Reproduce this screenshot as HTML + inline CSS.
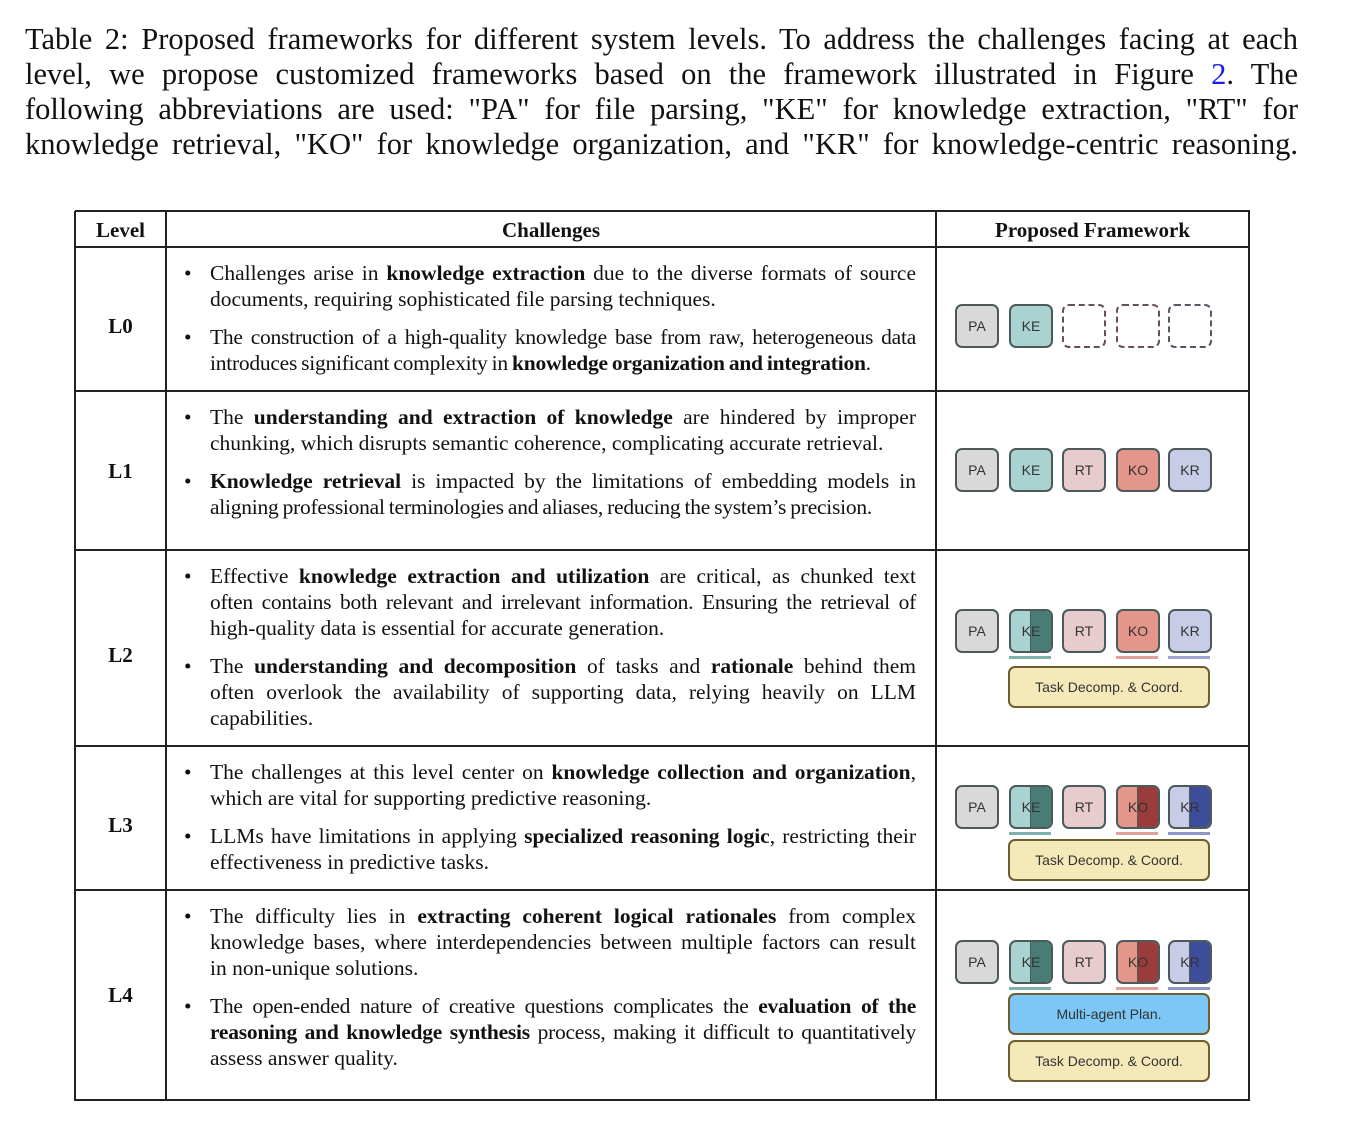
<!DOCTYPE html>
<html><head><meta charset="utf-8"><style>
body{margin:0;width:1346px;height:1146px;background:#fff;position:relative;overflow:hidden;font-family:"Liberation Serif",serif;color:#111}
.cap{position:absolute;left:25px;width:1273px;font-size:30.5px;line-height:35px;white-space:nowrap}
.j{text-align:justify;text-align-last:justify}
.l{position:absolute;left:210px;width:706px;font-size:21.5px;line-height:26px;white-space:nowrap}
.b{position:absolute;left:184px;font-size:21.5px;line-height:26px}
.tight{letter-spacing:-0.25px;word-spacing:-1px}
.hl{position:absolute;background:#222;height:1.5px}
.vl{position:absolute;background:#222;width:1.5px;top:211px;height:890px}
.hd{position:absolute;top:216px;font-weight:bold;font-size:21px;line-height:28px;text-align:center}
.lv{position:absolute;left:75px;width:91px;text-align:center;font-weight:bold;font-size:21px;line-height:26px}
.bx{position:absolute;width:40px;height:40px;border:2px solid #4d5a5a;border-radius:7px;box-sizing:content-box;font-family:"Liberation Sans",sans-serif;font-size:14px;color:#333;display:flex;align-items:center;justify-content:center;overflow:hidden}
.dash{border:2px dashed #6a5050;background:#fff}
.pa{background:#d9d9d9}.ke{background:#a9d3d0}.rt{background:#e8cbcd}.ko{background:#e5968b}.kr{background:#c8cce6}
.split span{position:relative;z-index:1}
.half{position:absolute;right:0;top:0;width:50%;height:100%;border-left:1.5px solid #4d5a5a}
.ul{position:absolute;height:3px}
.wide{position:absolute;left:1008px;width:198px;height:38px;border:2px solid #6e5e30;border-radius:7px;font-family:"Liberation Sans",sans-serif;font-size:14px;color:#333;display:flex;align-items:center;justify-content:center}
.task{background:#f5e9b9}.multi{background:#7cc7f5}
a{color:#1a1aee;text-decoration:none}
</style></head><body>
<div>
<div class="cap j" style="top:22px">Table 2: Proposed frameworks for different system levels. To address the challenges facing at each</div>
<div class="cap j" style="top:57px">level, we propose customized frameworks based on the framework illustrated in Figure <a>2</a>. The</div>
<div class="cap j" style="top:92px">following abbreviations are used: "PA" for file parsing, "KE" for knowledge extraction, "RT" for</div>
<div class="cap j" style="top:127px">knowledge retrieval, "KO" for knowledge organization, and "KR" for knowledge-centric reasoning.</div>
</div>

<div>
<div class="hl" style="left:75px;width:1175px;top:210px"></div>
<div class="hl" style="left:75px;width:1175px;top:246px"></div>
<div class="hl" style="left:75px;width:1175px;top:390px"></div>
<div class="hl" style="left:75px;width:1175px;top:549px"></div>
<div class="hl" style="left:75px;width:1175px;top:745px"></div>
<div class="hl" style="left:75px;width:1175px;top:889px"></div>
<div class="hl" style="left:75px;width:1175px;top:1099px"></div>
<div class="vl" style="left:74px"></div>
<div class="vl" style="left:165px"></div>
<div class="vl" style="left:935px"></div>
<div class="vl" style="left:1248px"></div>

<div class="hd" style="left:75px;width:91px">Level</div>
<div class="hd" style="left:166px;width:770px">Challenges</div>
<div class="hd" style="left:936px;width:313px">Proposed Framework</div>

<div class="lv" style="top:313px">L0</div>
<div class="lv" style="top:458px">L1</div>
<div class="lv" style="top:642px">L2</div>
<div class="lv" style="top:812px">L3</div>
<div class="lv" style="top:982px">L4</div>

<div>
<div class="b" style="top:260px">•</div>
<div class="l j" style="top:260px">Challenges arise in <b>knowledge extraction</b> due to the diverse formats of source</div>
<div class="l" style="top:286px">documents, requiring sophisticated file parsing techniques.</div>
<div class="b" style="top:324px">•</div>
<div class="l j tight" style="top:324px">The construction of a high-quality knowledge base from raw, heterogeneous data</div>
<div class="l tight" style="top:350px">introduces significant complexity in <b>knowledge organization and integration</b>.</div>
</div>
<div>
<div class="b" style="top:404px">•</div>
<div class="l j" style="top:404px">The <b>understanding and extraction of knowledge</b> are hindered by improper</div>
<div class="l" style="top:430px">chunking, which disrupts semantic coherence, complicating accurate retrieval.</div>
<div class="b" style="top:468px">•</div>
<div class="l j" style="top:468px"><b>Knowledge retrieval</b> is impacted by the limitations of embedding models in</div>
<div class="l tight" style="top:494px">aligning professional terminologies and aliases, reducing the system’s precision.</div>
</div>
<div>
<div class="b" style="top:563px">•</div>
<div class="l j" style="top:563px">Effective <b>knowledge extraction and utilization</b> are critical, as chunked text</div>
<div class="l j tight" style="top:589px">often contains both relevant and irrelevant information. Ensuring the retrieval of</div>
<div class="l" style="top:615px">high-quality data is essential for accurate generation.</div>
<div class="b" style="top:653px">•</div>
<div class="l j" style="top:653px">The <b>understanding and decomposition</b> of tasks and <b>rationale</b> behind them</div>
<div class="l j" style="top:679px">often overlook the availability of supporting data, relying heavily on LLM</div>
<div class="l" style="top:705px">capabilities.</div>
</div>
<div>
<div class="b" style="top:759px">•</div>
<div class="l j" style="top:759px">The challenges at this level center on <b>knowledge collection and organization</b>,</div>
<div class="l" style="top:785px">which are vital for supporting predictive reasoning.</div>
<div class="b" style="top:823px">•</div>
<div class="l j" style="top:823px">LLMs have limitations in applying <b>specialized reasoning logic</b>, restricting their</div>
<div class="l" style="top:849px">effectiveness in predictive tasks.</div>
</div>
<div>
<div class="b" style="top:903px">•</div>
<div class="l j" style="top:903px">The difficulty lies in <b>extracting coherent logical rationales</b> from complex</div>
<div class="l j" style="top:929px">knowledge bases, where interdependencies between multiple factors can result</div>
<div class="l" style="top:955px">in non-unique solutions.</div>
<div class="b" style="top:993px">•</div>
<div class="l j tight" style="top:993px">The open-ended nature of creative questions complicates the <b>evaluation of the</b></div>
<div class="l j tight" style="top:1019px"><b>reasoning and knowledge synthesis</b> process, making it difficult to quantitatively</div>
<div class="l" style="top:1045px">assess answer quality.</div>
</div>

<div>
<div class="bx pa" style="left:955px;top:304px">PA</div>
<div class="bx ke" style="left:1009px;top:304px">KE</div>
<div class="bx dash" style="left:1062px;top:304px"></div>
<div class="bx dash" style="left:1116px;top:304px"></div>
<div class="bx dash" style="left:1168px;top:304px;border-color:#555866"></div>
</div>
<div>
<div class="bx pa" style="left:955px;top:448px">PA</div>
<div class="bx ke" style="left:1009px;top:448px">KE</div>
<div class="bx rt" style="left:1062px;top:448px">RT</div>
<div class="bx ko" style="left:1116px;top:448px">KO</div>
<div class="bx kr" style="left:1168px;top:448px">KR</div>
</div>
<div>
<div class="bx pa" style="left:955px;top:609px">PA</div>
<div class="bx ke split" style="left:1009px;top:609px"><div class="half" style="background:#4a7c76"></div><span>KE</span></div>
<div class="bx rt" style="left:1062px;top:609px">RT</div>
<div class="bx ko" style="left:1116px;top:609px">KO</div>
<div class="bx kr" style="left:1168px;top:609px">KR</div>
<div class="ul" style="left:1009px;width:42px;top:656px;background:#7fb2ae"></div>
<div class="ul" style="left:1116px;width:42px;top:656px;background:#e0a19a"></div>
<div class="ul" style="left:1168px;width:42px;top:656px;background:#9ea5d2"></div>
<div class="wide task" style="top:666px">Task Decomp. &amp; Coord.</div>
</div>
<div>
<div class="bx pa" style="left:955px;top:785px">PA</div>
<div class="bx ke split" style="left:1009px;top:785px"><div class="half" style="background:#4a7c76"></div><span>KE</span></div>
<div class="bx rt" style="left:1062px;top:785px">RT</div>
<div class="bx ko split" style="left:1116px;top:785px"><div class="half" style="background:#9a3c3c"></div><span>KO</span></div>
<div class="bx kr split" style="left:1168px;top:785px"><div class="half" style="background:#3d4d9a"></div><span>KR</span></div>
<div class="ul" style="left:1009px;width:42px;top:832px;background:#7fb2ae"></div>
<div class="ul" style="left:1116px;width:42px;top:832px;background:#e0a19a"></div>
<div class="ul" style="left:1168px;width:42px;top:832px;background:#8f97c8"></div>
<div class="wide task" style="top:839px">Task Decomp. &amp; Coord.</div>
</div>
<div>
<div class="bx pa" style="left:955px;top:940px">PA</div>
<div class="bx ke split" style="left:1009px;top:940px"><div class="half" style="background:#4a7c76"></div><span>KE</span></div>
<div class="bx rt" style="left:1062px;top:940px">RT</div>
<div class="bx ko split" style="left:1116px;top:940px"><div class="half" style="background:#9a3c3c"></div><span>KO</span></div>
<div class="bx kr split" style="left:1168px;top:940px"><div class="half" style="background:#3d4d9a"></div><span>KR</span></div>
<div class="ul" style="left:1009px;width:42px;top:987px;background:#7fb2ae"></div>
<div class="ul" style="left:1116px;width:42px;top:987px;background:#e0a19a"></div>
<div class="ul" style="left:1168px;width:42px;top:987px;background:#8f97c8"></div>
<div class="wide multi" style="top:993px">Multi-agent Plan.</div>
<div class="wide task" style="top:1040px">Task Decomp. &amp; Coord.</div>
</div>
</div>
</body></html>
